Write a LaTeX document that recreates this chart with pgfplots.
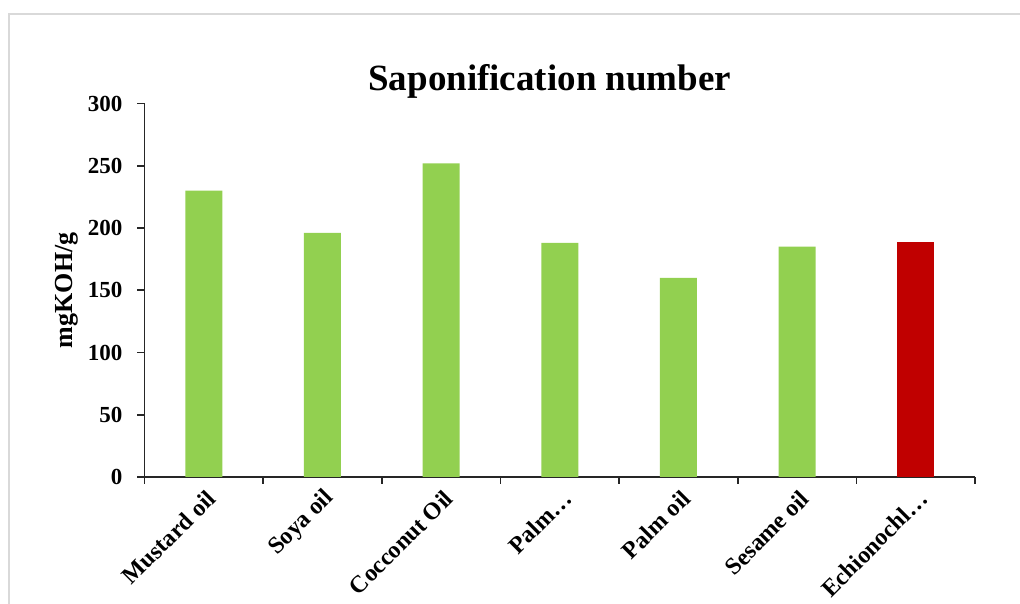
\documentclass[border=0pt]{standalone}
\usepackage{pgfplots}
\pgfplotsset{compat=1.18}
\usepackage{fontspec}
\setmainfont{Liberation Serif}
\definecolor{oilgreen}{HTML}{92D050}
\definecolor{oilred}{HTML}{C00000}
\definecolor{framegray}{HTML}{D9D9D9}
\begin{document}
\begin{tikzpicture}
\useasboundingbox (0,0) rectangle (1020pt,604pt);
\begin{scope}
\clip (0,0) rectangle (1020pt,604pt);
\draw[framegray, line width=2pt] (9pt,-20pt) -- (9pt,590pt) -- (1040pt,590pt);
\end{scope}
\begin{axis}[
  at={(144.5pt,127pt)}, anchor=south west,
  scale only axis, width=830.5pt, height=373.5pt,
  xmin=-0.5, xmax=6.5, ymin=0, ymax=300,
  axis x line*=bottom, axis y line*=left,
  axis line style={line width=1.6pt, black!85},
  ytick={0,50,...,300},
  tick align=outside,
  major tick length=7pt,
  every tick/.style={line width=1.6pt, black!85},
  % category boundaries carry the tick marks
  xtick={-0.5,0.5,1.5,2.5,3.5,4.5,5.5,6.5},
  xticklabels={},
  x tick label style={major tick length=8pt},
  % category names sit at the bar centres
  extra x ticks={0,1,2,3,4,5,6},
  extra x tick labels={Mustard oil, Soya oil, Cocconut Oil, Palm…, Palm oil, Sesame oil, Echionochl…},
  extra x tick style={tick style={draw=none},
    xticklabel style={rotate=45, anchor=east, inner sep=2pt, yshift=-13pt,
      font=\bfseries\fontsize{24}{28}\selectfont}},
  /pgf/number format/assume math mode=true,
  yticklabel style={inner sep=4pt, xshift=-11pt, font=\bfseries\fontsize{23}{27}\selectfont},
  ylabel={mgKOH/g},
  every axis y label/.style={at={(rel axis cs:0,0.5)}, xshift=-78pt, rotate=90, anchor=center, font=\bfseries\fontsize{26}{30}\selectfont},
  title={Saponification number},
  title style={at={(rel axis cs:0.488,1)}, anchor=base, yshift=7pt, font=\bfseries\fontsize{37}{41}\selectfont},
  ybar, bar width=37pt, bar shift=0pt,
]
\addplot[fill=oilgreen, draw=none] coordinates {(0,230) (1,196) (2,252) (3,188) (4,160) (5,185)};
\addplot[fill=oilred, draw=none] coordinates {(6,189)};
\end{axis}
\end{tikzpicture}
\end{document}
